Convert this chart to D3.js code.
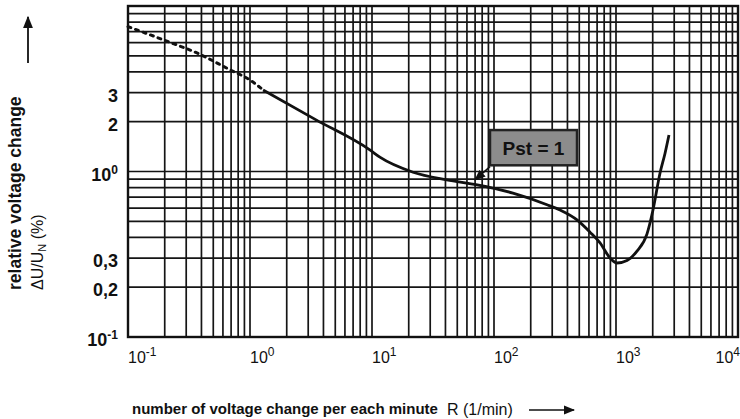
<!DOCTYPE html>
<html>
<head>
<meta charset="utf-8">
<script src="https://cdn.jsdelivr.net/npm/d3@7"></script>
<style>
  body { margin: 0; background: #fff; }
  svg { display: block; font-family: "Liberation Sans", Arial, sans-serif; }
</style>
</head>
<body>
<div id="chart"></div>
<script>
// flicker limit curve Pst = 1
const dashedRate = [0.1, 0.2, 0.39, 0.65, 1.04, 1.28];
const dashedDelta = [7.5, 6.2, 5.1, 4.2, 3.5, 3.11];

const solidRate = [1.28, 3.48, 9.6, 11.6, 21.7, 41, 73, 143, 272, 348, 479, 612, 740, 894, 1019, 1231, 1486, 1796, 2010, 2296, 2524, 2718];
const solidDelta = [3.11, 2.05, 1.35, 1.22, 0.99, 0.89, 0.83, 0.74, 0.63, 0.585, 0.51, 0.43, 0.37, 0.30, 0.28, 0.29, 0.33, 0.42, 0.585, 0.98, 1.29, 1.66];

const xTickExp = [-1, 0, 1, 2, 3, 4];
const yTickValues = [0.1, 0.2, 0.3, 1, 2, 3];
const yTickLabels = ["10|-1", "0,2", "0,3", "10|0", "2", "3"];

// Pst label box corners (rate, delta) and leader arrow target
const boxCorners = [[92.7, 1.78], [479, 1.09]];
const leaderFrom = [92.7, 1.07];
const leaderTo = [70, 0.89];

const width = 740, height = 419;

const svg = d3.select("#chart").append("svg")
    .attr("width", width)
    .attr("height", height);

const x = d3.scaleLog().domain([0.1, 10000]).range([128, 738]);
const y = d3.scaleLog().domain([0.1, 10]).range([337, 6]);

const defs = svg.append("defs");
defs.append("marker")
    .attr("id", "arrowHead")
    .attr("viewBox", "0 0 10 10")
    .attr("refX", 9).attr("refY", 5)
    .attr("markerWidth", 7).attr("markerHeight", 7)
    .attr("orient", "auto-start-reverse")
    .append("path").attr("d", "M0,1 L10,5 L0,9 z").attr("fill", "#111");

// ------------------ GRID ------------------
const xGridVals = [];
for (let e = -1; e <= 3; e++) {
    for (let k = 1; k <= 9; k++) xGridVals.push(k * Math.pow(10, e));
}
xGridVals.push(10000);
const yGridVals = [];
for (let e = -1; e <= 0; e++) {
    for (let k = 1; k <= 9; k++) yGridVals.push(k * Math.pow(10, e));
}
yGridVals.push(10);

const grid = svg.append("g").attr("stroke", "#151515").attr("stroke-width", 1.7);
grid.selectAll(".vline").data(xGridVals).enter()
    .append("line").attr("class", "vline")
    .attr("x1", d => x(d)).attr("x2", d => x(d))
    .attr("y1", y.range()[1]).attr("y2", y.range()[0]);
grid.selectAll(".hline").data(yGridVals).enter()
    .append("line").attr("class", "hline")
    .attr("x1", x.range()[0]).attr("x2", x.range()[1])
    .attr("y1", d => y(d)).attr("y2", d => y(d));

svg.append("rect")
    .attr("x", x.range()[0]).attr("y", y.range()[1])
    .attr("width", x.range()[1] - x.range()[0])
    .attr("height", y.range()[0] - y.range()[1])
    .attr("fill", "none").attr("stroke", "#111").attr("stroke-width", 2.4);

// ------------------ CURVE ------------------
const line = d3.line()
    .x(d => x(d[0])).y(d => y(d[1]))
    .curve(d3.curveMonotoneX);

svg.append("path")
    .datum(dashedRate.map((r, i) => [r, dashedDelta[i]]))
    .attr("d", line)
    .attr("fill", "none").attr("stroke", "#111")
    .attr("stroke-width", 3).attr("stroke-dasharray", "3,5")
    .attr("stroke-linecap", "round");

svg.append("path")
    .datum(solidRate.map((r, i) => [r, solidDelta[i]]))
    .attr("d", line)
    .attr("fill", "none").attr("stroke", "#111")
    .attr("stroke-width", 2.8);

// ------------------ PST LABEL ------------------
const bx0 = x(boxCorners[0][0]), by0 = y(boxCorners[0][1]);
const bx1 = x(boxCorners[1][0]), by1 = y(boxCorners[1][1]);
svg.append("rect")
    .attr("x", bx0).attr("y", by0)
    .attr("width", bx1 - bx0).attr("height", by1 - by0)
    .attr("fill", "#8c8c8c").attr("stroke", "#222").attr("stroke-width", 2.5);
svg.append("text")
    .attr("x", (bx0 + bx1) / 2).attr("y", (by0 + by1) / 2 + 7)
    .attr("text-anchor", "middle")
    .style("font-size", "19px").style("font-weight", "700").attr("fill", "#111")
    .text("Pst = 1");
svg.append("line")
    .attr("x1", x(leaderFrom[0])).attr("y1", y(leaderFrom[1]))
    .attr("x2", x(leaderTo[0])).attr("y2", y(leaderTo[1]))
    .attr("stroke", "#111").attr("stroke-width", 1.6)
    .attr("marker-end", "url(#arrowHead)");

// ------------------ TICK LABELS ------------------
function powerLabel(sel, base, exp, sup) {
    sel.append("tspan").text(base);
    sel.append("tspan").attr("dy", -7).style("font-size", sup).text(exp);
}

xTickExp.forEach((e, i) => {
    const last = i === xTickExp.length - 1;
    const t = svg.append("text")
        .attr("x", last ? width : x(Math.pow(10, e)))
        .attr("y", 363)
        .attr("text-anchor", last ? "end" : "start")
        .style("font-size", "16px").attr("fill", "#111");
    powerLabel(t, "10", String(e), "12px");
});

yTickValues.forEach((v, i) => {
    const parts = yTickLabels[i].split("|");
    const t = svg.append("text")
        .attr("x", 118)
        .attr("y", y(v) + 9)
        .attr("text-anchor", "end")
        .style("font-size", "18px").style("font-weight", "700").attr("fill", "#111");
    if (parts.length > 1) powerLabel(t, parts[0], parts[1], "12px");
    else t.text(parts[0]);
});

// ------------------ AXIS TITLES ------------------
svg.append("text")
    .attr("transform", "translate(21,290) rotate(-90)")
    .style("font-size", "17.5px").style("font-weight", "700").attr("fill", "#111")
    .text("relative voltage change");

const yt2 = svg.append("text")
    .attr("transform", "translate(43,290) rotate(-90)")
    .style("font-size", "16px").attr("fill", "#111");
yt2.append("tspan").text("\u0394U/U");
yt2.append("tspan").attr("dy", 3).style("font-size", "11px").text("N");
yt2.append("tspan").attr("dy", -3).text(" (%)");

svg.append("line")
    .attr("x1", 28).attr("y1", 63).attr("x2", 28).attr("y2", 17)
    .attr("stroke", "#111").attr("stroke-width", 1.8)
    .attr("marker-end", "url(#arrowHead)");

svg.append("text")
    .attr("x", 132).attr("y", 414)
    .style("font-size", "15px").style("font-weight", "700").attr("fill", "#111")
    .text("number of voltage change per each minute");
svg.append("text")
    .attr("x", 447).attr("y", 415)
    .style("font-size", "16px").attr("fill", "#111")
    .text("R (1/min)");
svg.append("line")
    .attr("x1", 529).attr("y1", 410).attr("x2", 574).attr("y2", 410)
    .attr("stroke", "#111").attr("stroke-width", 1.6)
    .attr("marker-end", "url(#arrowHead)");
</script>
</body>
</html>
